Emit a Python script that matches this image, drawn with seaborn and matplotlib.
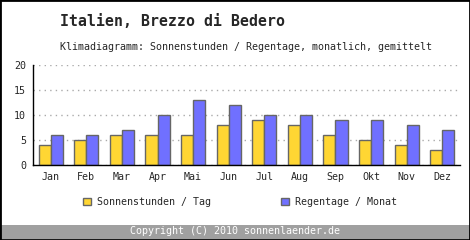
import numpy as np
import pandas as pd
import matplotlib
matplotlib.use('Agg')
import matplotlib.pyplot as plt
import seaborn as sns
from matplotlib.patches import Rectangle

sns.set_style('white')
plt.rcParams['font.family'] = ['DejaVu Sans Mono']

months = ['Jan', 'Feb', 'Mar', 'Apr', 'Mai', 'Jun', 'Jul', 'Aug', 'Sep', 'Okt', 'Nov', 'Dez']
sonne = [4, 5, 6, 6, 6, 8, 9, 8, 6, 5, 4, 3]
regen = [6, 6, 7, 10, 13, 12, 10, 10, 9, 9, 8, 7]
series = ['Sonnenstunden / Tag', 'Regentage / Monat']
yticks = [0, 5, 10, 15, 20]

df = pd.DataFrame({
    'Monat': months * 2,
    'Wert': sonne + regen,
    'Serie': [series[0]] * 12 + [series[1]] * 12,
})

bg = '#FFFFFF'
fs = 7.2
fig = plt.figure(figsize=(4.7, 2.4), dpi=100, facecolor=bg)
ax = fig.add_axes([33 / 470, 1 - 165 / 240, 427 / 470, 100 / 240])
ax.set_facecolor(bg)

sns.barplot(data=df, x='Monat', y='Wert', hue='Serie', ax=ax,
            palette=['#FFD633', '#7070FF'], width=0.68,
            edgecolor='#666666', linewidth=1, saturation=1, legend=True)

ax.set_ylim(0, 20)
ax.set_xlim(-0.5, 11.5)
ax.set_yticks(yticks)
ax.set_xlabel('')
ax.set_ylabel('')
ax.tick_params(axis='y', length=3, width=1, color='black', labelsize=fs, pad=2)
ax.tick_params(axis='x', length=0, labelsize=fs, pad=5)
ax.yaxis.grid(True, linestyle=(0, (1, 3)), color='#AAAAAA', linewidth=1)
ax.set_axisbelow(True)
for s in ['top', 'right']:
    ax.spines[s].set_visible(False)
for s in ['left', 'bottom']:
    ax.spines[s].set_color('black')
    ax.spines[s].set_linewidth(1)

handles, labels = ax.get_legend_handles_labels()
ax.get_legend().remove()
fig.legend(handles, labels, loc='center left', bbox_to_anchor=(83 / 470, 1 - 202 / 240),
           ncol=2, frameon=False, fontsize=fs, handlelength=0.8, handleheight=0.8,
           handletextpad=0.6, columnspacing=7.0, borderpad=0, borderaxespad=0)

fig.text(60 / 470, 1 - 22 / 240, 'Italien, Brezzo di Bedero', fontsize=10.7,
         fontweight='bold', va='center', ha='left')
fig.text(60 / 470, 1 - 47 / 240,
         'Klimadiagramm: Sonnenstunden / Regentage, monatlich, gemittelt',
         fontsize=fs, va='center', ha='left')

# footer band and border
fig.patches.append(Rectangle((0, 1 / 240), 1, 14 / 240, transform=fig.transFigure,
                             facecolor='#A0A0A0', edgecolor='none', zorder=0))
fig.text(235 / 470, 1 - 231 / 240, 'Copyright (C) 2010 sonnenlaender.de',
         fontsize=fs, color='white', va='center', ha='center')
fig.patches.append(Rectangle((0, 0), 1, 1, transform=fig.transFigure,
                             facecolor='none', edgecolor='black', linewidth=2, zorder=5))

fig.savefig('out.png', dpi=100, facecolor=bg)
